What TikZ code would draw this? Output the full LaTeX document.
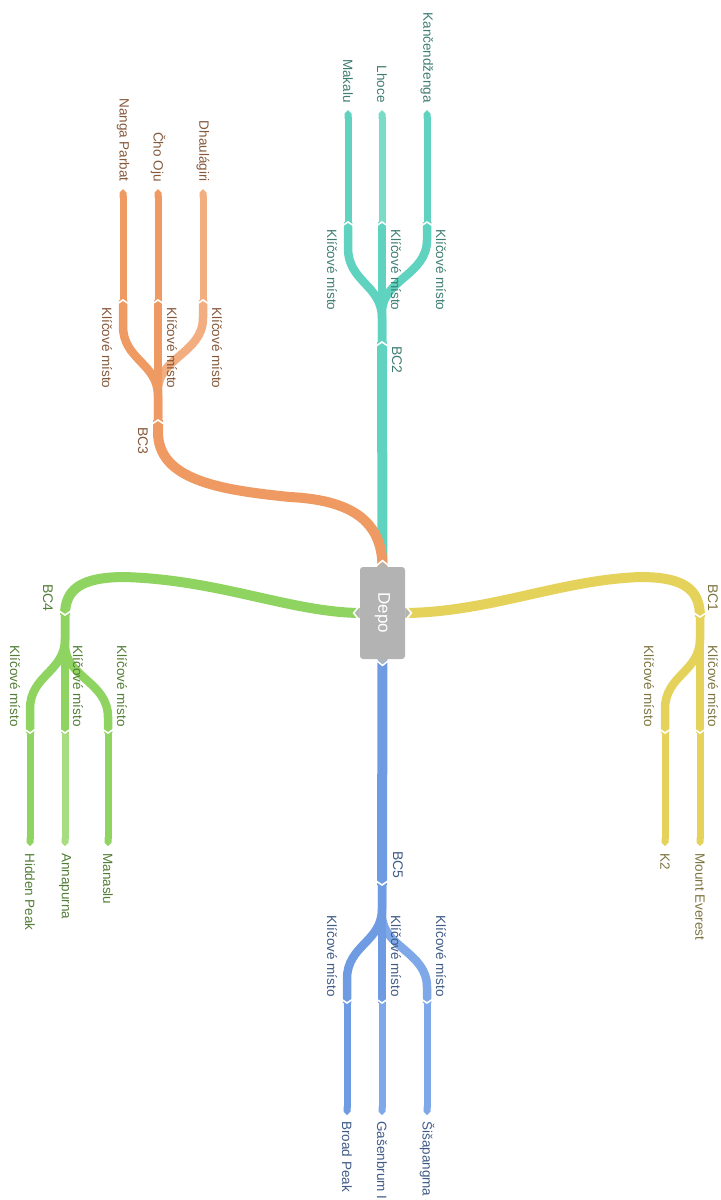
\documentclass[tikz,border=0pt]{standalone}
\usepackage{fontspec}
\setmainfont{Liberation Sans}
\usetikzlibrary{arrows.meta}
\definecolor{tealA}{HTML}{5FD3BF}
\definecolor{tealB}{HTML}{7BDBC9}
\definecolor{tealT}{HTML}{3F7D72}
\definecolor{oraA}{HTML}{EE9A62}
\definecolor{oraB}{HTML}{F2AE80}
\definecolor{oraT}{HTML}{85583A}
\definecolor{grnA}{HTML}{8FD460}
\definecolor{grnB}{HTML}{A6DD80}
\definecolor{grnT}{HTML}{527D36}
\definecolor{yelA}{HTML}{E5D25B}
\definecolor{yelT}{HTML}{7D7440}
\definecolor{bluA}{HTML}{6E9BE2}
\definecolor{bluB}{HTML}{7FA8E8}
\definecolor{bluT}{HTML}{3E5A86}
\definecolor{depoG}{HTML}{B3B3B3}
\begin{document}
\begin{tikzpicture}[x=0.5pt,y=-0.5pt,
  mainln/.style={line width=5pt},
  brln/.style={line width=4.25pt},
  lfln/.style={line width=3.5pt,-{Triangle Cap[]}},
  chev/.style={draw=white,line width=0.8pt},
  lbl/.style={rotate=-90,inner sep=0pt,font=\fontsize{6.75}{7.5}\selectfont},
  bclbl/.style={rotate=-90,inner sep=0pt,font=\fontsize{7}{8}\selectfont},
  depobox/.style={fill=depoG,rounded corners=1.5pt,minimum width=22.5pt,minimum height=46pt,inner sep=0pt,text=white,font=\fontsize{8.5}{10}\selectfont},
  upchev/.pic={\draw[chev] (-6,4) -- (0,0) -- (6,4);},
  downchev/.pic={\draw[chev] (-6,-4) -- (0,0) -- (6,-4);}
]
\useasboundingbox (0,0) rectangle (721,1200);

% Depot
\node[depobox] (depo) at (382.5,613) {\rotatebox{-90}{Depo}};

% base camps, key points, tips
\coordinate (bc1) at (700,617);
\coordinate (bc2) at (382,342);
\coordinate (bc3) at (158,420);
\coordinate (bc4) at (65,615);
\coordinate (bc5) at (382,885);

\coordinate (k1a) at (665,733);  \coordinate (t1a) at (665,846);
\coordinate (k1b) at (700,733);  \coordinate (t1b) at (700,846);

\coordinate (k2a) at (348,222);  \coordinate (t2a) at (348,110);
\coordinate (k2b) at (382,222);  \coordinate (t2b) at (382,110);
\coordinate (k2c) at (427,222);  \coordinate (t2c) at (427,110);

\coordinate (k3a) at (123,300);  \coordinate (t3a) at (123,189);
\coordinate (k3b) at (158,300);  \coordinate (t3b) at (158,189);
\coordinate (k3c) at (203,300);  \coordinate (t3c) at (203,189);

\coordinate (k4a) at (30,733);   \coordinate (t4a) at (30,846);
\coordinate (k4b) at (65,733);   \coordinate (t4b) at (65,846);
\coordinate (k4c) at (108,733);  \coordinate (t4c) at (108,846);

\coordinate (k5a) at (347,1003); \coordinate (t5a) at (347,1115);
\coordinate (k5b) at (382,1003); \coordinate (t5b) at (382,1115);
\coordinate (k5c) at (427,1003); \coordinate (t5c) at (427,1115);

% ---- BC2 (teal)
\draw[mainln,tealA] (depo.north) -- (bc2);
\draw[brln,tealA] (bc2) -- (382,318) .. controls (382,285) and (348,282) .. (348,248) -- (k2a);
\draw[brln,tealA] (bc2) -- (382,312) .. controls (382,280) and (427,275) .. (427,240) -- (k2c);
\draw[brln,tealA] (bc2) -- (k2b);
\draw[lfln,tealA] (k2a) -- (t2a);
\draw[lfln,tealB] (k2b) -- (t2b);
\draw[lfln,tealA] (k2c) -- (t2c);

% ---- BC3 (orange)
\draw[mainln,oraA] (depo.north) .. controls (382,520) and (350,500) .. (290,497)
   .. controls (220,490) and (158,480) .. (158,432) -- (bc3);
\draw[brln,oraB] (bc3) -- (158,390) .. controls (158,358) and (203,353) .. (203,318) -- (k3c);
\draw[brln,oraA] (bc3) -- (158,396) .. controls (158,363) and (123,360) .. (123,326) -- (k3a);
\draw[brln,oraA] (bc3) -- (k3b);
\draw[lfln,oraA] (k3a) -- (t3a);
\draw[lfln,oraA] (k3b) -- (t3b);
\draw[lfln,oraB] (k3c) -- (t3c);

% ---- BC4 (green)
\draw[mainln,grnA] (depo.west) .. controls (290,612) and (220,580) .. (125,577)
   .. controls (80,577) and (65,590) .. (bc4);
\draw[brln,grnA] (bc4) -- (65,639) .. controls (65,672) and (30,675) .. (30,709) -- (k4a);
\draw[brln,grnA] (bc4) -- (65,645) .. controls (65,677) and (108,682) .. (108,717) -- (k4c);
\draw[brln,grnA] (bc4) -- (k4b);
\draw[lfln,grnA] (k4a) -- (t4a);
\draw[lfln,grnB] (k4b) -- (t4b);
\draw[lfln,grnA] (k4c) -- (t4c);

% ---- BC1 (yellow)
\draw[mainln,yelA] (depo.east) .. controls (490,612) and (560,580) .. (640,577)
   .. controls (685,577) and (700,590) .. (bc1);
\draw[brln,yelA] (bc1) -- (700,639) .. controls (700,672) and (665,675) .. (665,709) -- (k1a);
\draw[brln,yelA] (bc1) -- (k1b);
\draw[lfln,yelA] (k1a) -- (t1a);
\draw[lfln,yelA] (k1b) -- (t1b);

% ---- BC5 (blue)
\draw[mainln,bluA] (depo.south) -- (bc5);
\draw[brln,bluB] (bc5) -- (382,915) .. controls (382,947) and (427,952) .. (427,987) -- (k5c);
\draw[brln,bluA] (bc5) -- (382,909) .. controls (382,942) and (347,945) .. (347,979) -- (k5a);
\draw[brln,bluA] (bc5) -- (k5b);
\draw[lfln,bluA] (k5a) -- (t5a);
\draw[lfln,bluB] (k5b) -- (t5b);
\draw[lfln,bluB] (k5c) -- (t5c);

% ---- notches
\foreach \p in {bc2,bc3,k2a,k2b,k2c,k3a,k3b,k3c} {\pic at (\p) {upchev};}
\foreach \p in {bc1,bc4,bc5,k1a,k1b,k4a,k4b,k4c,k5a,k5b,k5c} {\pic at (\p) {downchev};}

% ---- depot connectors
\fill[depoG] ([shift={(-5,0)}]depo.north) -- ([shift={(0,-4.5)}]depo.north) -- ([shift={(5,0)}]depo.north) -- cycle;
\draw[chev] ([shift={(-6.5,-0.7)}]depo.north) -- ([shift={(0,-6)}]depo.north) -- ([shift={(6.5,-0.7)}]depo.north);
\fill[depoG] ([shift={(-5,0)}]depo.south) -- ([shift={(0,4.5)}]depo.south) -- ([shift={(5,0)}]depo.south) -- cycle;
\draw[chev] ([shift={(-6.5,0.7)}]depo.south) -- ([shift={(0,6)}]depo.south) -- ([shift={(6.5,0.7)}]depo.south);
\fill[depoG] ([shift={(0,-5)}]depo.west) -- ([shift={(-4.5,0)}]depo.west) -- ([shift={(0,5)}]depo.west) -- cycle;
\draw[chev] ([shift={(-0.7,-6.5)}]depo.west) -- ([shift={(-6,0)}]depo.west) -- ([shift={(-0.7,6.5)}]depo.west);
\fill[depoG] ([shift={(0,-5)}]depo.east) -- ([shift={(4.5,0)}]depo.east) -- ([shift={(0,5)}]depo.east) -- cycle;
\draw[chev] ([shift={(0.7,-6.5)}]depo.east) -- ([shift={(6,0)}]depo.east) -- ([shift={(0.7,6.5)}]depo.east);

% ---- labels BC2
\node[bclbl,text=tealT,anchor=west] (lbc2) at (397,346) {BC2};
\node[lbl,text=tealT,anchor=east] (n2a) at (348,103) {Makalu};
\node[lbl,text=tealT,anchor=east] (n2b) at (382,103) {Lhoce};
\node[lbl,text=tealT,anchor=east] (n2c) at (427,103) {Kančendženga};
\node[lbl,text=tealT,anchor=west] (m2a) at (332,229) {Klíčové místo};
\node[lbl,text=tealT,anchor=west] (m2b) at (396,229) {Klíčové místo};
\node[lbl,text=tealT,anchor=west] (m2c) at (441,229) {Klíčové místo};

% ---- labels BC3
\node[bclbl,text=oraT,anchor=west] (lbc3) at (143,427) {BC3};
\node[lbl,text=oraT,anchor=east] (n3a) at (123,182) {Nanga Parbat};
\node[lbl,text=oraT,anchor=east] (n3b) at (158,182) {Čho Oju};
\node[lbl,text=oraT,anchor=east] (n3c) at (203,182) {Dhaulágiri};
\node[lbl,text=oraT,anchor=west] (m3a) at (107,307) {Klíčové místo};
\node[lbl,text=oraT,anchor=west] (m3b) at (172,307) {Klíčové místo};
\node[lbl,text=oraT,anchor=west] (m3c) at (217,307) {Klíčové místo};

% ---- labels BC4
\node[bclbl,text=grnT,anchor=east] (lbc4) at (48,612) {BC4};
\node[lbl,text=grnT,anchor=west] (n4a) at (30,853) {Hidden Peak};
\node[lbl,text=grnT,anchor=west] (n4b) at (65,853) {Annapurna};
\node[lbl,text=grnT,anchor=west] (n4c) at (108,853) {Manaslu};
\node[lbl,text=grnT,anchor=east] (m4a) at (15,727) {Klíčové místo};
\node[lbl,text=grnT,anchor=east] (m4b) at (78,727) {Klíčové místo};
\node[lbl,text=grnT,anchor=east] (m4c) at (122,727) {Klíčové místo};

% ---- labels BC1
\node[bclbl,text=yelT,anchor=east] (lbc1) at (713,612) {BC1};
\node[lbl,text=yelT,anchor=west] (n1a) at (665,853) {K2};
\node[lbl,text=yelT,anchor=west] (n1b) at (700,853) {Mount Everest};
\node[lbl,text=yelT,anchor=east] (m1a) at (649,727) {Klíčové místo};
\node[lbl,text=yelT,anchor=east] (m1b) at (713,727) {Klíčové místo};

% ---- labels BC5
\node[bclbl,text=bluT,anchor=east] (lbc5) at (398,879) {BC5};
\node[lbl,text=bluT,anchor=west] (n5a) at (347,1121) {Broad Peak};
\node[lbl,text=bluT,anchor=west] (n5b) at (382,1121) {Gašenbrum I};
\node[lbl,text=bluT,anchor=west] (n5c) at (427,1121) {Šišapangma};
\node[lbl,text=bluT,anchor=east] (m5a) at (332,997) {Klíčové místo};
\node[lbl,text=bluT,anchor=east] (m5b) at (396,997) {Klíčové místo};
\node[lbl,text=bluT,anchor=east] (m5c) at (441,997) {Klíčové místo};
\end{tikzpicture}
\end{document}
